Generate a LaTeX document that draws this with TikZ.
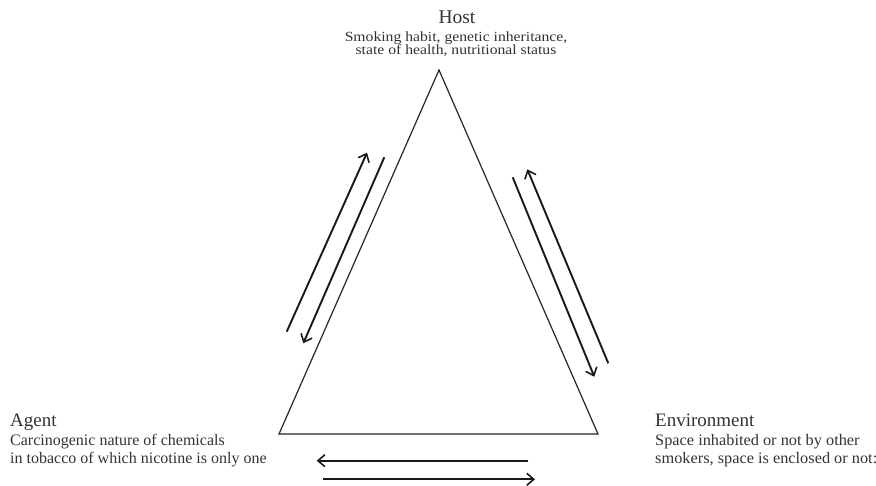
\documentclass[tikz,border=0pt]{standalone}
\usepackage{fontspec}
\setmainfont{Liberation Serif}
\usetikzlibrary{arrows.meta}
\begin{document}
\begin{tikzpicture}[x=1pt,y=-1pt,
  tri/.style={line width=1.2pt,draw=black!85},
  flow/.style={line width=1.9pt,draw=black!90,-{Straight Barb[length=7pt,width=12pt,line width=1.6pt]}},
  ttl/.style={inner sep=0pt,anchor=base,text=black!80},
  sub/.style={inner sep=0pt,anchor=base west,text=black!80}]
\useasboundingbox (0,0) rectangle (876,486);
\fill[white] (0,0) rectangle (876,486);
% triangle
\coordinate (apex) at (439,70);
\coordinate (bl) at (279,434);
\coordinate (br) at (598,434);
\draw[tri] (apex) -- (bl) -- (br) -- cycle;
% left side arrows
\coordinate (l1s) at (286.7,331.7);
\coordinate (l1e) at (367,152.7);
\coordinate (l2s) at (384.3,157.3);
\coordinate (l2e) at (303.3,343.3);
\draw[flow] (l1s) -- (l1e);
\draw[flow] (l2s) -- (l2e);
% right side arrows
\coordinate (r1s) at (512.7,177.3);
\coordinate (r1e) at (594.3,376.7);
\coordinate (r2s) at (608.3,363.3);
\coordinate (r2e) at (527.3,169.3);
\draw[flow] (r1s) -- (r1e);
\draw[flow] (r2s) -- (r2e);
% bottom arrows
\coordinate (b1s) at (528.3,460.7);
\coordinate (b1e) at (316.7,460.7);
\coordinate (b2s) at (322.7,479.3);
\coordinate (b2e) at (535,479.3);
\draw[flow] (b1s) -- (b1e);
\draw[flow] (b2s) -- (b2e);
% Host
\node[ttl,font=\fontsize{19.5}{22}\selectfont] (host) at (457,23.3) {Host};
\node[ttl,xscale=1.12,font=\fontsize{14}{16}\selectfont] (host1) at (456,41.7) {Smoking habit, genetic inheritance,};
\node[ttl,xscale=1.12,font=\fontsize{14}{16}\selectfont] (host2) at (456,54.3) {state of health, nutritional status};
% Agent
\node[sub,font=\fontsize{19}{22}\selectfont] (agent) at (10,426.7) {Agent};
\node[sub,font=\fontsize{16}{19}\selectfont] (agent1) at (10,445.7) {Carcinogenic nature of chemicals};
\node[sub,font=\fontsize{16}{19}\selectfont] (agent2) at (10,463.3) {in tobacco of which nicotine is only one};
% Environment
\node[sub,font=\fontsize{19}{22}\selectfont] (env) at (655,426.7) {Environment};
\node[sub,xscale=1.02,font=\fontsize{16}{19}\selectfont] (env1) at (655,445.3) {Space inhabited or not by other};
\node[sub,xscale=1.02,font=\fontsize{16}{19}\selectfont] (env2) at (655,463.3) {smokers, space is enclosed or not:};
\end{tikzpicture}
\end{document}
